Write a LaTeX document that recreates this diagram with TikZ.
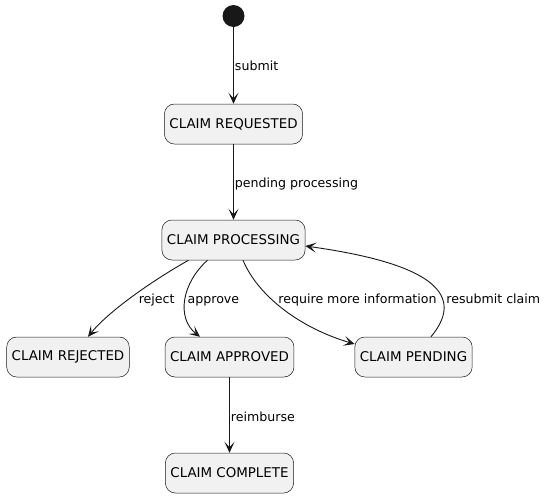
\documentclass[tikz,border=0pt]{standalone}
\usepackage{fontspec}
\setmainfont{DejaVu Sans}
\usetikzlibrary{arrows.meta}

\definecolor{statefill}{HTML}{F1F1F1}
\definecolor{ink}{HTML}{181818}

\begin{document}
\begin{tikzpicture}[x=1pt, y=-1pt,
        state/.style = {draw=ink, line width=0.5pt, fill=statefill, rounded corners=10pt, minimum height=40pt, inner xsep=5pt, font=\fontsize{13.4}{16}\selectfont},
        trans/.style = {draw=ink, line width=0.9pt, -{Stealth[length=11pt, width=10pt, inset=5.5pt]}},
        lbl/.style = {font=\fontsize{12.6}{15}\selectfont, inner sep=1pt}]
                \useasboundingbox (0,0) rectangle (547,499);

                \node[circle, fill=ink, minimum size=22pt, inner sep=0pt] at (233.5, 16) (init) {};
                \node[state] at (233.5, 124) (requested) {CLAIM REQUESTED};
                \node[state] at (233.5, 240) (processing) {CLAIM PROCESSING};
                \node[state] at (68, 357) (rejected) {CLAIM REJECTED};
                \node[state] at (229.5, 357) (approved) {CLAIM APPROVED};
                \node[state] at (413.5, 357) (pending) {CLAIM PENDING};
                \node[state] at (229.5, 473) (complete) {CLAIM COMPLETE};

                \draw[trans] (init) -- node[lbl, anchor=west, pos=0.48, yshift=-2pt] (l-submit) {submit} (requested);
                \draw[trans] (requested) -- node[lbl, anchor=west, pos=0.5, yshift=-2pt] (l-pending) {pending processing} (processing);
                \draw[trans] ([xshift=-45pt]processing.south) .. controls (150, 282) and (108, 312) .. ([xshift=20pt]rejected.north)
                        node[lbl, anchor=west, pos=0.5, xshift=6pt, yshift=-3pt] (l-reject) {reject};
                \draw[trans] ([xshift=-26pt]processing.south) .. controls (182, 283) and (176, 318) .. ([xshift=-29.5pt]approved.north)
                        node[lbl, anchor=west, pos=0.5, xshift=1pt, yshift=-1pt] (l-approve) {approve};
                \draw[trans] ([xshift=9.5pt]processing.south) .. controls (258, 296) and (300, 328) .. ([yshift=13pt]pending.west)
                        node[lbl, anchor=west, pos=0.38, xshift=6pt, yshift=-1pt] (l-require) {require more information};
                \draw[trans] ([xshift=17.5pt]pending.north) .. controls (470, 290) and (420, 262) .. ([yshift=-6pt]processing.east)
                        node[lbl, anchor=west, pos=0.2, xshift=1pt, yshift=12pt] (l-resubmit) {resubmit claim};
                \draw[trans] (approved) -- node[lbl, anchor=west, pos=0.5, yshift=-2pt] (l-reimburse) {reimburse} (complete);
            \end{tikzpicture}
\end{document}
